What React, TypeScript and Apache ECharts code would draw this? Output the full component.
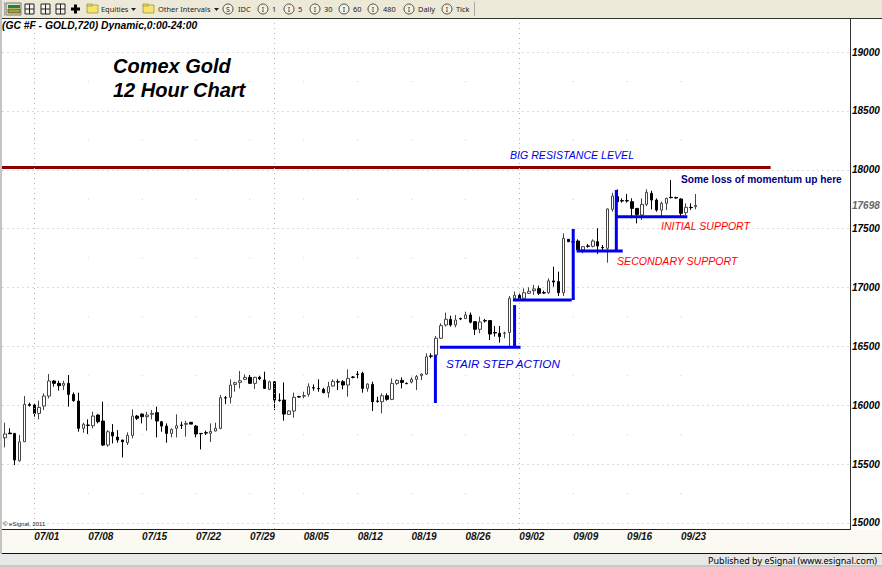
import React, { useEffect, useRef } from "react";
import * as echarts from "echarts";

const opens = [15724,15764,15761,15529,15690,16007,16002,15931,15993,16078,
16206,16186,16169,16186,16092,16036,15804,15832,15826,15917,
15866,15662,15770,15730,15705,15682,15744,15908,15925,15903,
15923,15937,15860,15823,15761,15804,15832,15838,15855,15823,
15761,15767,15761,15781,15804,16064,16067,16177,16194,16220,
16237,16186,16237,16214,16135,16200,16044,16044,15922,15951,
16073,16078,16093,16149,16143,16135,16107,16163,16200,16200,
16172,16240,16265,16271,16143,16177,16036,16030,16081,16050,
16186,16211,16186,16197,16220,16251,16265,16419,16427,16569,
16682,16730,16682,16736,16736,16767,16710,16645,16719,16719,
16617,16611,16611,16617,16908,16934,16908,16951,16973,16990,
16956,16956,17056,17050,16956,17409,17389,17395,17319,17353,
17350,17389,17341,17333,17664,17772,17738,17738,17729,17672,
17616,17706,17800,17743,17658,17715,17766,17763,17752,17636,
17681,17687];
const closes = [15756,15758,15535,15690,16007,15999,15931,15982,16078,16206,
16186,16166,16186,16092,16039,15804,15838,15829,15908,15860,
15662,15775,15739,15705,15690,15744,15908,15889,15903,15917,
15931,15866,15823,15761,15795,15826,15829,15846,15840,15756,
15758,15764,15778,15804,16064,16061,16172,16191,16208,16237,
16186,16237,16225,16143,16200,16044,16041,15925,15951,16067,
16070,16081,16158,16146,16140,16107,16158,16203,16197,16172,
16228,16237,16262,16143,16180,16030,16033,16081,16050,16186,
16211,16194,16183,16220,16243,16265,16412,16416,16569,16676,
16730,16682,16724,16733,16767,16705,16645,16707,16716,16605,
16614,16583,16614,16908,16934,16900,16956,16968,16988,16951,
16953,17056,17047,16956,17418,17389,17386,17319,17347,17350,
17395,17353,17338,17667,17777,17729,17735,17735,17672,17621,
17706,17808,17743,17658,17715,17757,17763,17760,17630,17681,
17678,17698];
const lows = [15642,15756,15492,15521,15690,15988,15903,15880,15959,16058,
16158,16124,16129,15988,16030,15775,15767,15756,15804,15846,
15654,15648,15676,15682,15557,15662,15719,15874,15846,15784,
15880,15727,15775,15682,15727,15727,15798,15733,15840,15727,
15625,15747,15688,15778,15795,16010,16016,16115,16143,16214,
16180,16138,16214,16138,16129,15959,16030,15869,15917,15894,
16064,16059,16073,16124,16115,16101,16064,16158,16129,16135,
16073,16228,16228,16107,16115,15951,16022,15931,16039,16044,
16172,16143,16180,16186,16129,16214,16257,16399,16427,16563,
16668,16668,16662,16724,16733,16696,16597,16611,16702,16554,
16583,16532,16569,16492,16894,16889,16900,16945,16937,16937,
16945,16945,17007,16928,16928,17386,17380,17304,17290,17338,
17341,17285,17319,17211,17644,17729,17721,17721,17588,17545,
17573,17692,17664,17644,17602,17658,17757,17757,17602,17616,
17658,17664];
const highs = [15852,15804,15761,15747,16078,16022,16016,16039,16101,16265,
16214,16208,16208,16257,16109,16107,15852,15880,15945,15923,
16030,15789,15840,15789,15705,15770,15965,15917,15931,15945,
15959,15988,15866,15846,15804,15923,15860,15869,15855,15832,
15761,15784,15846,15852,16087,16078,16220,16200,16291,16262,
16257,16242,16251,16285,16208,16206,16101,16194,15959,16107,
16081,16115,16186,16177,16220,16149,16200,16220,16220,16214,
16305,16248,16291,16285,16186,16200,16073,16101,16101,16228,
16220,16237,16194,16237,16257,16271,16441,16441,16588,16696,
16787,16761,16767,16744,16795,16787,16710,16753,16733,16724,
16673,16673,16625,16928,16965,16956,16993,17002,17022,17016,
16973,17078,17177,17135,17460,17412,17395,17409,17353,17370,
17409,17503,17361,17672,17805,17834,17757,17794,17757,17672,
17757,17834,17822,17757,17729,17763,17913,17772,17757,17715,
17715,17794];

const weekLabels = ["07/01","07/08","07/15","07/22","07/29","08/05","08/12","08/19","08/26","09/02","09/09","09/16","09/23"];
const weekBars = [6,17,28,39,50,61,72,83,94,105,116,127,138];
const monthBars = [6,55,105];
const slotCount = 173;
const priceTicks = [15000,15500,16000,16500,17000,17500,18000,18500,19000];
const lastPrice = 17698;
const minorLevels = [15250,15750,16250,16750,17250,17750,18250,18750];

const resistance = [[-1,18019],[156.3,18019]];
const steps = [
  [[87.87,16427],[87.87,16019]],
  [[88.8,16492],[105.25,16492]],
  [[104.03,16851],[104.03,16492]],
  [[103.7,16894],[115.7,16894]],
  [[116,17497],[116,16894]],
  [[116.7,17310],[126.1,17310]],
  [[124.8,17828],[124.8,17310]],
  [[124.85,17601],[139.3,17601]],
];

const toolbarItems = [
  { icon: "S", iconX: 228, text: "IDC", textX: 238 },
  { icon: "I", iconX: 263, text: "1", textX: 272 },
  { icon: "I", iconX: 289, text: "5", textX: 298 },
  { icon: "I", iconX: 315, text: "30", textX: 324 },
  { icon: "I", iconX: 344, text: "60", textX: 353 },
  { icon: "I", iconX: 373, text: "480", textX: 383 },
  { icon: "I", iconX: 409, text: "Daily", textX: 418 },
  { icon: "I", iconX: 447, text: "Tick", textX: 456 },
];
const uiFont = "'Noto Sans', sans-serif";
const chartFont = "'Liberation Sans', Arial, sans-serif";

function folder(x: number) {
  return [
    { type: "rect", shape: { x: x - 5, y: 5, width: 11, height: 8 }, style: { fill: "#f7e56b", stroke: "#8a7a20", lineWidth: 0.6 } },
    { type: "rect", shape: { x: x - 5, y: 4, width: 5, height: 2 }, style: { fill: "#f7e56b", stroke: "#8a7a20", lineWidth: 0.6 } },
  ];
}
function tbox(x: number) {
  return [
    { type: "rect", shape: { x: x - 4, y: 4, width: 9, height: 10 }, style: { fill: "#f4f4ec", stroke: "#222", lineWidth: 1 } },
    { type: "line", shape: { x1: x - 4, y1: 9, x2: x + 5, y2: 9 }, style: { stroke: "#222", lineWidth: 1 } },
    { type: "line", shape: { x1: x + 0.5, y1: 4, x2: x + 0.5, y2: 14 }, style: { stroke: "#222", lineWidth: 1 } },
  ];
}

export default function App() {
  const ref = useRef<HTMLDivElement>(null);
  useEffect(() => {
    const chart = echarts.init(ref.current!, undefined, { renderer: "svg" });
    const categories = Array.from({ length: slotCount }, (_, i) => {
      const w = weekBars.indexOf(i);
      return w >= 0 ? weekLabels[w] : "";
    });
    const candleData = opens.map((o, i) => [o, closes[i], lows[i], highs[i]]);
    const minorDots: number[][] = [];
    weekBars.forEach((b) => minorLevels.forEach((l) => minorDots.push([b, l])));

    const texts: any[] = [
      { t: "(GC #F - GOLD,720) Dynamic,0:00-24:00", x: 2, y: 25, f: "italic bold 10.3px", c: "#000" },
      { t: "Comex Gold", x: 113, y: 66, f: "italic bold 20px", c: "#000" },
      { t: "12 Hour Chart", x: 113, y: 90, f: "italic bold 20px", c: "#000" },
      { t: "BIG RESISTANCE LEVEL", x: 510, y: 155, f: "italic 10.6px", c: "#0000e0" },
      { t: "Some loss of momentum up here", x: 681, y: 179, f: "bold 10.2px", c: "#000080" },
      { t: "INITIAL SUPPORT", x: 661, y: 226, f: "italic 10.5px", c: "#ff0000" },
      { t: "SECONDARY SUPPORT", x: 617, y: 261, f: "italic 10.6px", c: "#ff0000" },
      { t: "STAIR STEP ACTION", x: 446, y: 363, f: "italic 11.7px", c: "#0000e0" },
      { t: "\u00a9 eSignal, 2011", x: 3, y: 524, f: "6px", c: "#222" },
    ];

    const graphics: any[] = [
      { type: "rect", z: -1, shape: { x: 2, y: 530, width: 880, height: 23 }, style: { fill: "#fbfaf2" } },
      { type: "rect", shape: { x: 0, y: 0, width: 882, height: 18 }, style: { fill: "#ece9d8" } },
      { type: "line", shape: { x1: 0, y1: 18.5, x2: 882, y2: 18.5 }, style: { stroke: "#333", lineWidth: 1 } },
      { type: "rect", shape: { x: 0, y: 0, width: 2, height: 567 }, style: { fill: "#c4c4c4" } },
      { type: "line", shape: { x1: 2, y1: 529.5, x2: 850, y2: 529.5 }, style: { stroke: "#222", lineWidth: 1 } },
      { type: "line", shape: { x1: 850.5, y1: 19, x2: 850.5, y2: 530 }, style: { stroke: "#333", lineWidth: 1 } },
      { type: "line", shape: { x1: 2, y1: 553.5, x2: 882, y2: 553.5 }, style: { stroke: "#111", lineWidth: 1 } },
      { type: "rect", shape: { x: 0, y: 554, width: 882, height: 13 }, style: { fill: "#e8e8e8" } },
      { type: "rect", shape: { x: 0, y: 565, width: 882, height: 2 }, style: { fill: "#c8c8c8" } },
      { type: "text", x: 877, y: 560, style: { text: "Published by eSignal (www.esignal.com)", font: `9px ${uiFont}`, fill: "#000", textAlign: "right", textVerticalAlign: "middle" } },
      // toolbar icons
      { type: "rect", shape: { x: 6, y: 3, width: 15, height: 12 }, style: { fill: "#e6e0c4", stroke: "#777", lineWidth: 1 } },
      { type: "rect", shape: { x: 8, y: 5, width: 12, height: 3 }, style: { fill: "#1a8a2a" } },
      { type: "rect", shape: { x: 8, y: 9, width: 12, height: 4 }, style: { fill: "#a8a020", stroke: "#333", lineWidth: 0.6 } },
      ...tbox(29), ...tbox(45), ...tbox(60),
      { type: "rect", shape: { x: 71, y: 7.5, width: 9, height: 3 }, style: { fill: "#000" } },
      { type: "rect", shape: { x: 74, y: 4.5, width: 3, height: 9 }, style: { fill: "#000" } },
      ...folder(92), ...folder(148),
      { type: "text", x: 101, y: 9, style: { text: "Equities", font: `7.4px ${uiFont}`, fill: "#222", textVerticalAlign: "middle" } },
      { type: "polygon", shape: { points: [[131, 8], [136, 8], [133.5, 11]] }, style: { fill: "#222" } },
      { type: "text", x: 158, y: 9, style: { text: "Other Intervals", font: `7.4px ${uiFont}`, fill: "#222", textVerticalAlign: "middle" } },
      { type: "polygon", shape: { points: [[214, 8], [219, 8], [216.5, 11]] }, style: { fill: "#222" } },
      { type: "line", shape: { x1: 474.5, y1: 2, x2: 474.5, y2: 16 }, style: { stroke: "#aaa", lineWidth: 1 } },
      { type: "line", shape: { x1: 4.5, y1: 2, x2: 4.5, y2: 16 }, style: { stroke: "#aaa", lineWidth: 1 } },
      ...toolbarItems.flatMap((it) => [
        { type: "circle", shape: { cx: it.iconX, cy: 9, r: 5 }, style: { fill: "#f4f2e6", stroke: "#222", lineWidth: 0.8 } },
        { type: "text", x: it.iconX, y: 9, style: { text: it.icon, font: `7px ${uiFont}`, fill: "#222", textAlign: "center", textVerticalAlign: "middle" } },
        { type: "text", x: it.textX, y: 9, style: { text: it.text, font: `7.4px ${uiFont}`, fill: "#222", textVerticalAlign: "middle" } },
      ]),
      ...texts.map((t) => ({
        type: "text", x: t.x, y: t.y,
        style: { text: t.t, font: `${t.f} ${chartFont}`, fill: t.c, textVerticalAlign: "middle" },
      })),
    ];

    const segment = (data: number[][], color: string, width: number, z: number) => ({
      type: "line", xAxisIndex: 1, yAxisIndex: 0, data, symbol: "none", silent: true, z,
      lineStyle: { color, width, cap: "butt" },
    });

    chart.setOption({
      animation: false,
      backgroundColor: "#ffffff",
      grid: { left: 2.5, right: 32, top: 18, bottom: 38, containLabel: false, outerBoundsMode: "none" },
      xAxis: [
        {
          type: "category", data: categories, boundaryGap: true,
          axisLine: { show: false }, axisTick: { show: false }, splitLine: { show: false },
          axisLabel: {
            interval: (i: number) => weekBars.includes(i),
            align: "left", margin: 2, color: "#111",
            fontFamily: chartFont, fontStyle: "italic", fontWeight: "bold", fontSize: 10,
            hideOverlap: false,
          },
        },
        { type: "value", min: -0.5, max: slotCount - 0.5, show: false, splitLine: { show: false } },
      ],
      yAxis: {
        type: "value", position: "right", min: 14949, max: 19289, scale: true,
        axisLine: { show: false },
        axisTick: { show: false, customValues: priceTicks },
        splitLine: { show: true, lineStyle: { color: "#b4b4b4", width: 1, type: [1, 4] } },
        axisLabel: {
          customValues: [...priceTicks, lastPrice].sort((a, b) => a - b),
          margin: 2, color: "#000", fontFamily: chartFont, fontStyle: "italic", fontWeight: "bold", fontSize: 10,
          formatter: (v: number) => (v === lastPrice ? `{g|${v}}` : String(v)),
          rich: { g: { color: "#666", fontFamily: chartFont, fontStyle: "italic", fontSize: 10 } },
        },
      },
      series: [
        {
          type: "scatter", xAxisIndex: 0, data: minorDots, symbol: "rect", symbolSize: 1, silent: true, z: 1,
          itemStyle: { color: "#bbbbbb" },
          markLine: {
            silent: true, symbol: "none", animation: false, label: { show: false },
            lineStyle: { color: "#b4b4b4", width: 1, type: [1, 4] },
            data: monthBars.map((b) => ({ xAxis: b })),
          },
        },
        {
          type: "candlestick", xAxisIndex: 0, data: candleData, barWidth: 3, silent: true, z: 3,
          itemStyle: { color: "#ffffff", color0: "#000000", borderColor: "#444444", borderColor0: "#000000", borderWidth: 1 },
        },
        segment(resistance, "#8b0000", 3, 4),
        ...steps.map((s) => segment(s, "#0000ee", 3, 5)),
      ],
      graphic: { elements: graphics.map((g) => ({ ...g, silent: true, z: g.z ?? 10 })) },
    });
    return () => chart.dispose();
  }, []);
  return <div ref={ref} style={{ position: "fixed", left: 0, top: 0, width: 882, height: 567 }} />;
}
